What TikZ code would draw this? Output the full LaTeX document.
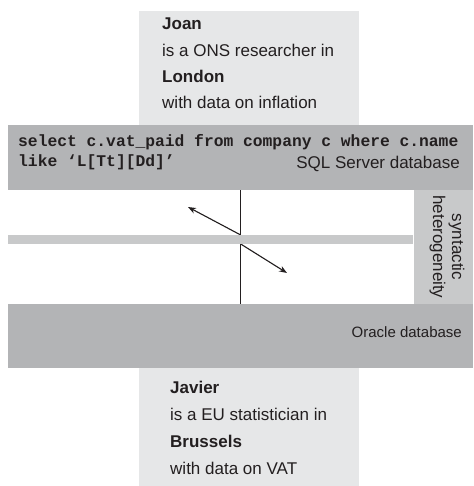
\documentclass[tikz,border=0pt]{standalone}
\usepackage{fontspec}
\setmainfont{Liberation Sans}
\setmonofont{Liberation Mono}
\usetikzlibrary{arrows.meta}
\definecolor{lightbox}{HTML}{E6E7E8}
\definecolor{darkband}{HTML}{B3B4B6}
\definecolor{midband}{HTML}{C8C9CA}
\definecolor{ink}{HTML}{231F20}
\begin{document}
\begin{tikzpicture}[x=1pt,y=-1pt,
  panel/.style={inner sep=0pt, outer sep=0pt, anchor=north west, draw=none},
  txt/.style={inner sep=0pt, anchor=base west, text=ink, font=\fontsize{17}{20}\selectfont},
  code/.style={inner sep=0pt, anchor=base west, text=ink, font=\ttfamily\bfseries\fontsize{16.3}{20}\selectfont},
  arr/.style={-{Stealth[length=8pt,width=6pt]}, line width=1.1pt, draw=ink, fill=ink},
  vline/.style={line width=1.4pt, draw=ink}]
\useasboundingbox (0,0) rectangle (473,486);
% panels
\node[panel, fill=lightbox, minimum width=220pt, minimum height=114pt] (top) at (139,11) {};
\node[panel, fill=lightbox, minimum width=220pt, minimum height=118pt] (bottom) at (139,368) {};
\node[panel, fill=darkband, minimum width=465pt, minimum height=65pt] (sql) at (8,125) {};
\node[panel, fill=darkband, minimum width=465pt, minimum height=64pt] (oracle) at (8,304) {};
\node[panel, fill=midband, minimum width=59pt, minimum height=114pt] (synt) at (414,190) {};
% connectors
\coordinate (vtop) at (240.7,190);
\coordinate (vmidA) at (240.7,235);
\coordinate (vmidB) at (240.7,244);
\coordinate (vbot) at (240.7,304);
\coordinate (tipA) at (188,207);
\coordinate (tipB) at (287,273);
\draw[vline] (vtop) -- (vmidA);
\draw[vline] (vmidB) -- (vbot);
\draw[arr] (vmidA) -- (tipA);
\draw[arr] (vmidB) -- (tipB);
\node[panel, fill=midband, minimum width=405pt, minimum height=9pt] (thin) at (8,235) {};
% top text
\node[txt] (joan) at (162,30) {\bfseries Joan};
\node[txt] (joan2) at (162,56.5) {is a ONS researcher in};
\node[txt] (london) at (162,83) {\bfseries London};
\node[txt] (joan4) at (162,108.5) {with data on inflation};
% sql text
\node[code] (sql1) at (18,147) {select c.vat\_paid from company c where c.name};
\node[code] (sql2) at (18,167) {like ‘L[Tt][Dd]’};
\node[txt, anchor=base east] (sqlname) at (460,168) {SQL Server database};
% oracle
\node[txt, anchor=base east, font=\fontsize{15}{18}\selectfont] (oraname) at (462,337) {Oracle database};
% syntactic
\node[inner sep=0pt, rotate=-90, align=center, text=ink, font=\fontsize{17}{19}\selectfont] (syntxt) at (447,247) {syntactic\\heterogeneity};
% bottom text
\node[txt] (javier) at (170,393) {\bfseries Javier};
\node[txt] (javier2) at (170,420) {is a EU statistician in};
\node[txt] (brussels) at (170,447) {\bfseries Brussels};
\node[txt] (javier4) at (170,474) {with data on VAT};
\end{tikzpicture}
\end{document}
